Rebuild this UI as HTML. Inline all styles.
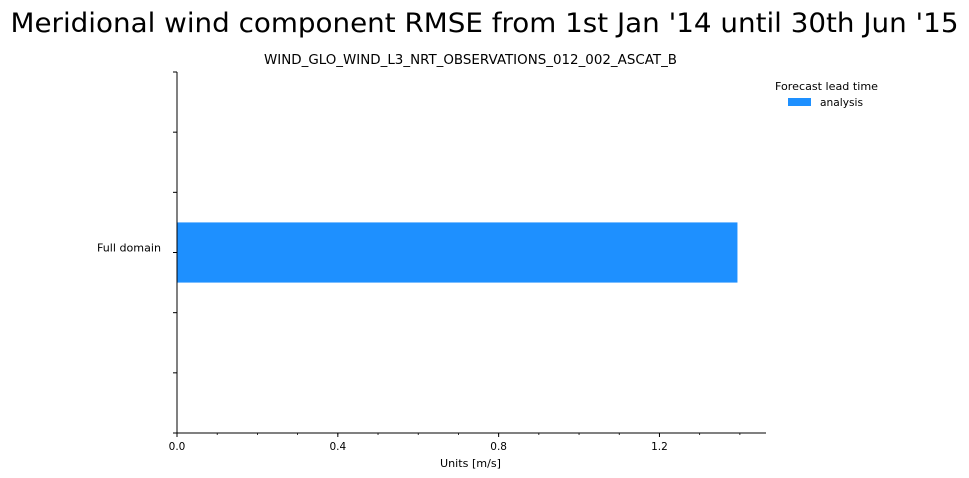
<!DOCTYPE html>
<html><head><meta charset="utf-8"><style>
html,body{margin:0;padding:0;background:#fff;}
svg{display:block;font-family:"DejaVu Sans","Liberation Sans",sans-serif;}
</style></head><body>
<svg id="chart" width="969" height="478">
<text x="484.5" y="32" font-size="27" text-anchor="middle" textLength="948" lengthAdjust="spacingAndGlyphs">Meridional wind component RMSE from 1st Jan '14 until 30th Jun '15</text>
<text x="470.5" y="64" font-size="13" text-anchor="middle" textLength="413" lengthAdjust="spacingAndGlyphs">WIND_GLO_WIND_L3_NRT_OBSERVATIONS_012_002_ASCAT_B</text>
<g id="plot"></g>
<text x="470.5" y="467" font-size="11" text-anchor="middle" textLength="61" lengthAdjust="spacingAndGlyphs">Units [m/s]</text>
<g>
<text x="775" y="90" font-size="11" textLength="103" lengthAdjust="spacingAndGlyphs">Forecast lead time</text>
<rect x="788" y="98" width="23" height="8" fill="#1e90ff"></rect>
<text x="820" y="106" font-size="11" textLength="43" lengthAdjust="spacingAndGlyphs">analysis</text>
</g>
</svg>
<script>
const categories = ["Full domain"];
const values = [1.394];
const xTicks = [0.0, 0.4, 0.8, 1.2];
const xTickLabels = ["0.0", "0.4", "0.8", "1.2"];
const xMax = 1.465;

const x0 = 177, x1 = 766, yTop = 72, yBot = 433;
const xs = v => x0 + (v / xMax) * (x1 - x0);
const NS = "http://www.w3.org/2000/svg";
const g = document.getElementById("plot");
function mk(t, a) { const e = document.createElementNS(NS, t); for (const k in a) e.setAttribute(k, a[k]); g.appendChild(e); return e; }

const nSlots = 6;
const slotH = (yBot - yTop) / nSlots;
categories.forEach((c, i) => {
  const cy = yTop + (3 + i) * slotH;
  const bar = mk("rect", { x: xs(0), y: cy - slotH / 2, width: xs(values[i]) - xs(0), height: slotH, fill: "#1e90ff" });
  
  
  const lab = mk("text", { x: 161, y: cy - 1, "font-size": 11, "text-anchor": "end", textLength: 64, lengthAdjust: "spacingAndGlyphs" });
  lab.textContent = c;
  
  
});
for (let k = 0; k <= nSlots; k++) {
  const y = yTop + k * slotH;
  const t = mk("line", { x1: 173, x2: 177, y1: y, y2: y, stroke: "#000", "stroke-width": 1 });
  
  
}
for (let v = 0.1; v < xMax; v += 0.1) {
  const t = mk("line", { x1: xs(v), x2: xs(v), y1: yBot, y2: yBot + 2, stroke: "#000", "stroke-width": 0.8 });
  
  
}
xTicks.forEach((v, i) => {
  const t = mk("line", { x1: xs(v), x2: xs(v), y1: yBot, y2: yBot + 4, stroke: "#000", "stroke-width": 1 });
  
  
  const l = mk("text", { x: xs(v), y: yBot + 17, "font-size": 10.5, "text-anchor": "middle" });
  l.textContent = xTickLabels[i];
  
  
});
const ya = mk("line", { x1: x0, x2: x0, y1: yTop, y2: yBot, stroke: "#000", "stroke-width": 1 });


const xa = mk("line", { x1: x0, x2: x1, y1: yBot, y2: yBot, stroke: "#000", "stroke-width": 1 });


</script>
</body></html>
